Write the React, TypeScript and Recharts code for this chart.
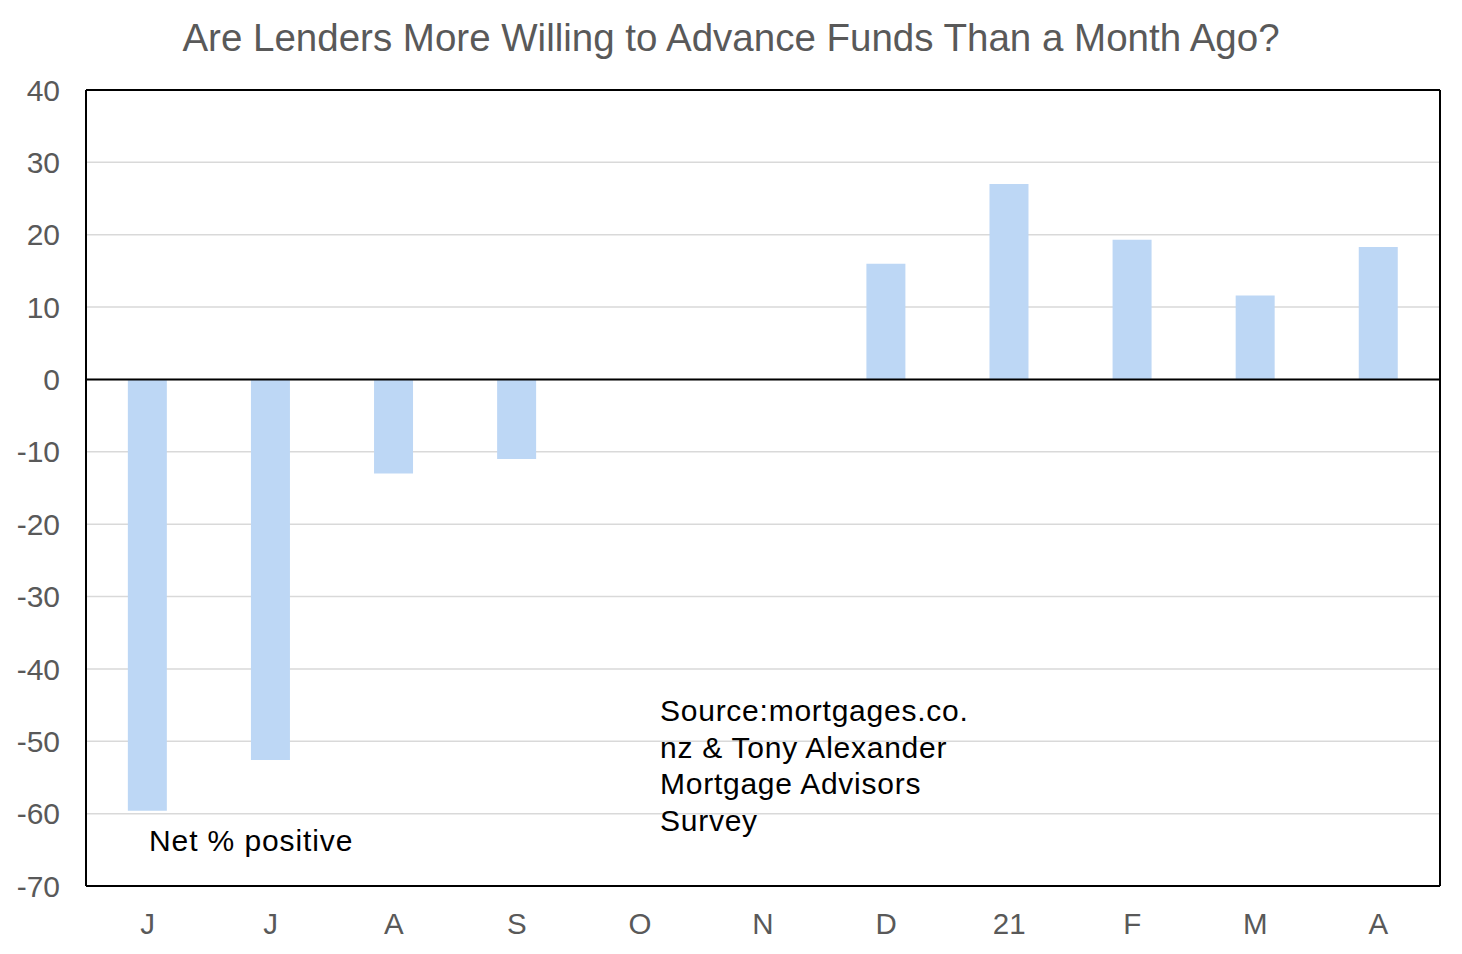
import React from "react";
import { ComposedChart, Bar, Line, XAxis, YAxis, CartesianGrid, ReferenceLine } from "recharts";

const months = ["J", "J", "A", "S", "O", "N", "D", "21", "F", "M", "A"];
const netPositive = [-59.6, -52.6, -13, -11, 0, 0, 16, 27, 19.3, 11.6, 18.3];
const yTicks = [-70, -60, -50, -40, -30, -20, -10, 0, 10, 20, 30, 40];

const data = months.map((m, i) => ({ id: i, m, v: netPositive[i] }));

const FONT = "'Liberation Sans', Arial, sans-serif";

export default function App() {
  return (
    <div style={{ position: "relative", width: 1446, height: 938, fontFamily: FONT }}>
      <div
        style={{
          position: "absolute",
          left: 0,
          width: 1446,
          top: 7,
          textAlign: "center",
          fontSize: 38.5,
          color: "#595959",
          lineHeight: "46px",
        }}
      >
        Are Lenders More Willing to Advance Funds Than a Month Ago?
      </div>
      <ComposedChart
        width={1446}
        height={938}
        data={data}
        margin={{ top: 82, right: 12, left: 0, bottom: 0 }}
        barCategoryGap="34%"
      >
        <CartesianGrid vertical={false} stroke="#D9D9D9" strokeWidth={1.5} />
        <XAxis
          dataKey="id"
          tickFormatter={(i: number) => months[i]}
          interval={0}
          height={60}
          tickLine={false}
          tickSize={0}
          tickMargin={27}
          axisLine={{ stroke: "#000", strokeWidth: 2 }}
          tick={{ fill: "#595959", fontSize: 29.5, fontFamily: FONT }}
        />
        <YAxis
          domain={[-70, 40]}
          ticks={yTicks}
          interval={0}
          width={78}
          tickLine={false}
          tickSize={0}
          tickMargin={26}
          axisLine={{ stroke: "#000", strokeWidth: 2 }}
          tick={{ fill: "#595959", fontSize: 30, fontFamily: FONT }}
        />
        <YAxis
          yAxisId="r"
          orientation="right"
          domain={[-70, 40]}
          width={2}
          tick={false}
          tickLine={false}
          axisLine={{ stroke: "#000", strokeWidth: 2 }}
        />
        <ReferenceLine y={40} stroke="#000" strokeWidth={2} />
        <Bar dataKey="v" fill="#BDD7F5" isAnimationActive={false} />
        <Line yAxisId="r" dataKey="none" stroke="none" dot={false} isAnimationActive={false} legendType="none" />
        <ReferenceLine y={0} stroke="#000" strokeWidth={2} />
      </ComposedChart>
      <div
        style={{
          position: "absolute",
          left: 141,
          top: 815,
          fontSize: 30,
          letterSpacing: "0.9px",
          color: "#000",
          lineHeight: "36px",
        }}
      >
        Net % positive
      </div>
      <div
        style={{
          position: "absolute",
          left: 652,
          top: 685,
          fontSize: 30,
          letterSpacing: "0.75px",
          color: "#000",
          lineHeight: "36.7px",
        }}
      >
        Source:mortgages.co.
        <br />
        nz &amp; Tony Alexander
        <br />
        Mortgage Advisors
        <br />
        Survey
      </div>
    </div>
  );
}
